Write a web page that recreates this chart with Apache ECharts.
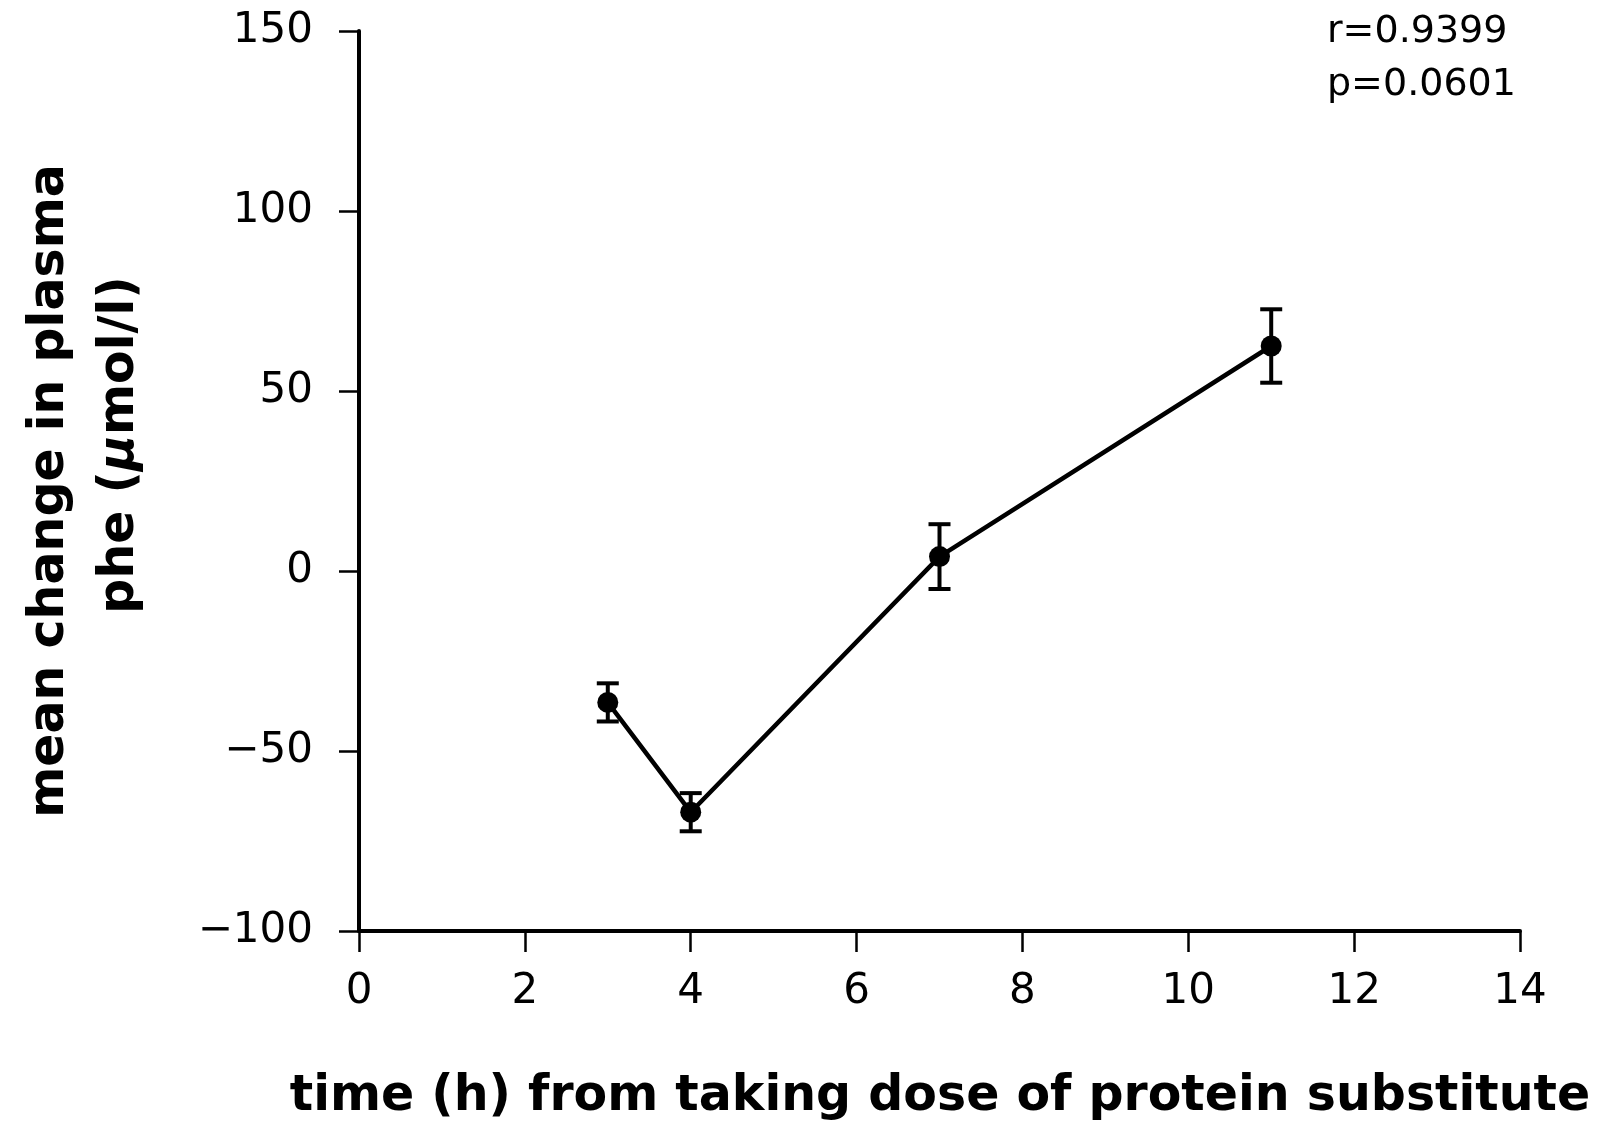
<!DOCTYPE html>
<html>
<head>
<meta charset="utf-8">
<script src="https://cdn.jsdelivr.net/npm/echarts@6/dist/echarts.min.js"></script>
<style>
  html, body { margin: 0; padding: 0; background: #fff; }
  #chart { width: 1604px; height: 1125px; }
</style>
</head>
<body>
<div id="chart"></div>
<script>
// Time after the dose (h)
const hours = [3, 4, 7, 11];
// Mean change in plasma phe (µmol/l)
const meanChange = [-36.5, -67, 4, 62.5];
// Half-width of the error bars (µmol/l)
const errorHalf = [5.3, 5.3, 9, 10.2];
// Axis ranges and steps
const xTicks = { min: 0, max: 14, step: 2 };
const yTicks = { min: -100, max: 150, step: 50 };
// Statistics shown in the corner
const statLines = ['r=0.9399', 'p=0.0601'];
const xTitle = 'time (h) from taking dose of protein substitute';
const yTitleLine1 = 'mean change in plasma';
const yTitleLine2 = ['phe (', '\u03bc', 'mol/l)'];

const points = hours.map((h, i) => [h, meanChange[i]]);
const bars = hours.map((h, i) => [h, meanChange[i] - errorHalf[i], meanChange[i] + errorHalf[i]]);

const chart = echarts.init(document.getElementById('chart'));

const titleFont = { fontFamily: 'DejaVu Sans', fontWeight: 'bold', fontSize: 49 };
const tickFont = { color: '#000', fontFamily: 'DejaVu Sans', fontSize: 42 };

chart.setOption({
  animation: false,
  backgroundColor: '#ffffff',
  grid: { left: 359, right: 84, top: 31, bottom: 194 },
  xAxis: {
    type: 'value',
    min: xTicks.min, max: xTicks.max, interval: xTicks.step,
    axisLine: { onZero: false, lineStyle: { color: '#000', width: 4 } },
    axisTick: { show: true, length: 21, lineStyle: { color: '#000', width: 2.5 } },
    axisLabel: Object.assign({ margin: 40 }, tickFont),
    splitLine: { show: false }
  },
  yAxis: {
    type: 'value',
    min: yTicks.min, max: yTicks.max, interval: yTicks.step,
    axisLine: { show: true, onZero: false, lineStyle: { color: '#000', width: 4 } },
    axisTick: { show: true, length: 20, lineStyle: { color: '#000', width: 2.5 } },
    axisLabel: Object.assign({ margin: 46,
      formatter: v => (v < 0 ? '\u2212' + Math.abs(v) : String(v)) }, tickFont),
    splitLine: { show: false }
  },
  series: [
    {
      type: 'custom',
      z: 3,
      data: bars,
      renderItem: (params, api) => {
        const x = api.value(0);
        const lo = api.coord([x, api.value(1)]);
        const hi = api.coord([x, api.value(2)]);
        const cap = 11;
        const st = { stroke: '#000', lineWidth: 4 };
        return {
          type: 'group',
          children: [
            { type: 'line', shape: { x1: lo[0], y1: lo[1], x2: hi[0], y2: hi[1] }, style: st },
            { type: 'line', shape: { x1: lo[0] - cap, y1: lo[1], x2: lo[0] + cap, y2: lo[1] }, style: st },
            { type: 'line', shape: { x1: hi[0] - cap, y1: hi[1], x2: hi[0] + cap, y2: hi[1] }, style: st }
          ]
        };
      }
    },
    {
      type: 'line',
      z: 4,
      data: points,
      symbol: 'circle',
      symbolSize: 21,
      lineStyle: { color: '#000', width: 4.5 },
      itemStyle: { color: '#000' }
    }
  ],
  graphic: [
    {
      type: 'text', x: 940, y: 1097,
      style: Object.assign({ text: xTitle, fill: '#000', align: 'center', verticalAlign: 'middle' }, titleFont)
    },
    {
      type: 'text', x: 50, y: 491, rotation: Math.PI / 2,
      style: Object.assign({ text: yTitleLine1, fill: '#000', align: 'center', verticalAlign: 'middle' }, titleFont)
    },
    {
      type: 'text', x: 120, y: 445, rotation: Math.PI / 2,
      style: Object.assign({
        text: '{b|' + yTitleLine2[0] + '}{i|' + yTitleLine2[1] + '}{b|' + yTitleLine2[2] + '}',
        fill: '#000', align: 'center', verticalAlign: 'middle',
        rich: {
          b: Object.assign({ fill: '#000' }, titleFont),
          i: Object.assign({ fill: '#000' }, titleFont, { fontStyle: 'italic' })
        }
      }, titleFont)
    },
    {
      type: 'text', x: 1327, y: 32,
      style: { text: statLines[0], fontFamily: 'DejaVu Sans', fontSize: 38, fill: '#000', align: 'left', verticalAlign: 'middle' }
    },
    {
      type: 'text', x: 1327, y: 85,
      style: { text: statLines[1], fontFamily: 'DejaVu Sans', fontSize: 38, fill: '#000', align: 'left', verticalAlign: 'middle' }
    }
  ]
});
</script>
</body>
</html>
